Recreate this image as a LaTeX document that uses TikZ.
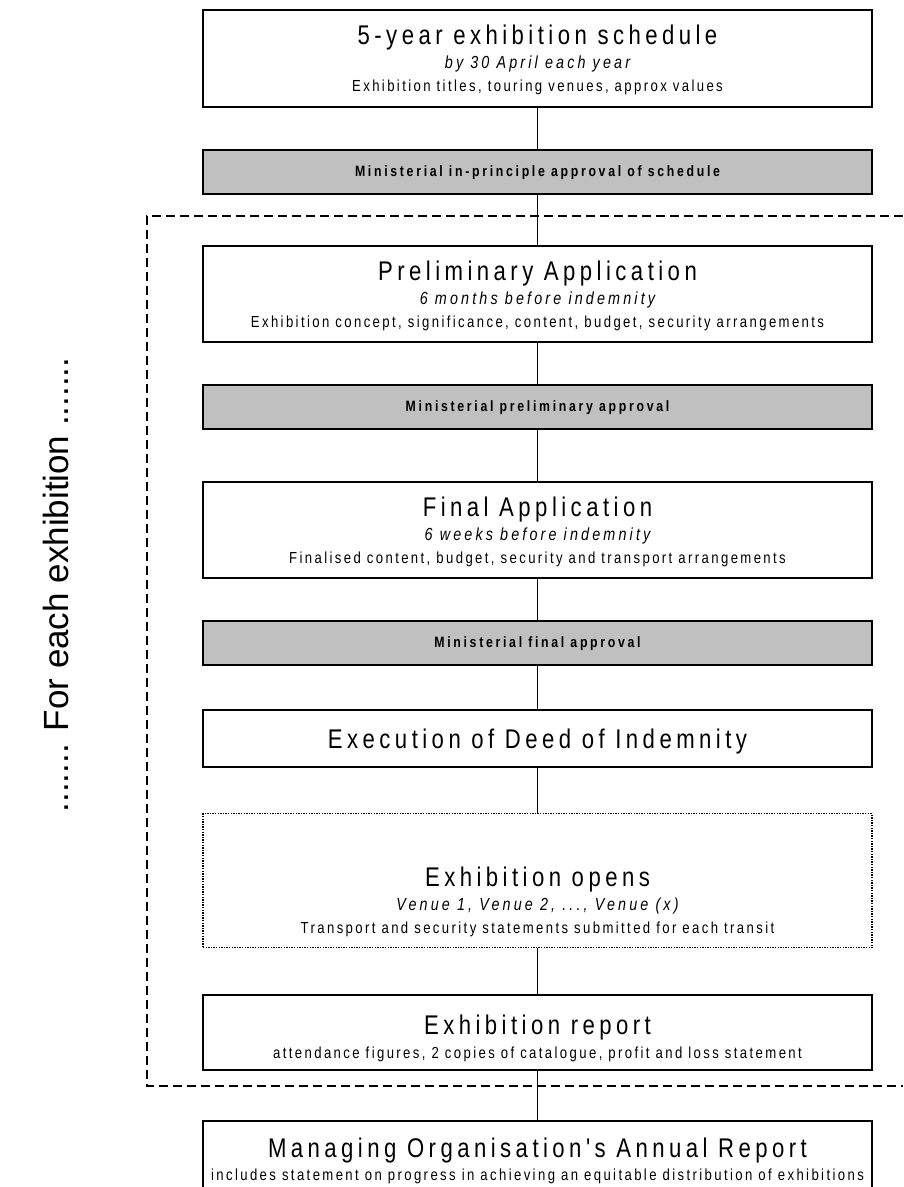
\documentclass[tikz,border=0pt]{standalone}
\usepackage{fontspec}
\setmainfont{Liberation Sans}
\newfontfamily\ttlfont[FakeStretch=0.82,LetterSpace=16.5]{Liberation Sans}
\newfontfamily\subfont[FakeStretch=0.82,LetterSpace=18]{Liberation Sans}
\newfontfamily\dscfont[FakeStretch=0.82,LetterSpace=15]{Liberation Sans}
\newfontfamily\grfont[FakeStretch=0.82,LetterSpace=18]{Liberation Sans}
\definecolor{appgrey}{RGB}{192,192,192}
\tikzset{
  box/.style={draw, line width=1.6pt, fill=white, minimum width=669pt, inner sep=0pt, anchor=north},
  greybox/.style={box, fill=appgrey, minimum height=44pt},
  dotbox/.style={box, line width=1.4pt, dash pattern=on 1.4pt off 1.2pt},
  ttl/.style={anchor=base, inner sep=0pt, font=\ttlfont\fontsize{27}{27}\selectfont},
  sub/.style={anchor=base, inner sep=0pt, font=\subfont\itshape\fontsize{17.5}{17.5}\selectfont},
  dsc/.style={anchor=base, inner sep=0pt, font=\dscfont\fontsize{16}{16}\selectfont},
  gtx/.style={anchor=base, inner sep=0pt, font=\grfont\bfseries\fontsize{15}{15}\selectfont},
  link/.style={line width=1.4pt},
  frame/.style={line width=1.5pt, dash pattern=on 9pt off 5pt},
}
\begin{document}
\begin{tikzpicture}[x=1pt,y=-1pt]
\useasboundingbox (0,0) rectangle (903,1187);
% dashed frame
\draw[frame] (903,216) -| (147,1086) -- (903,1086);
% boxes
\node[box, minimum height=97pt] (b1) at (537.5,9) {};
\node[greybox] (g1) at (537.5,149) {};
\node[box, minimum height=96pt] (b2) at (537.5,245) {};
\node[greybox] (g2) at (537.5,384) {};
\node[box, minimum height=96pt] (b3) at (537.5,481) {};
\node[greybox] (g3) at (537.5,620) {};
\node[box, minimum height=57pt] (b4) at (537.5,709) {};
\node[dotbox, minimum height=134pt] (b5) at (537.5,813) {};
\node[box, minimum height=75pt] (b6) at (537.5,994) {};
\node[box, minimum height=72pt] (b7) at (537.5,1120) {};
% connectors
\draw[link] (b1.south) -- (g1.north);
\draw[link] (g1.south) -- (b2.north);
\draw[link] (b2.south) -- (g2.north);
\draw[link] (g2.south) -- (b3.north);
\draw[link] (b3.south) -- (g3.north);
\draw[link] (g3.south) -- (b4.north);
\draw[link] (b4.south) -- (b5.north);
\draw[link] (b5.south) -- (b6.north);
\draw[link] (b6.south) -- (b7.north);
% texts
\node[ttl] (t1a) at (537.5,44) {5-year exhibition schedule};
\node[sub] (t1b) at (537.5,68) {by 30 April each year};
\node[dsc] (t1c) at (537.5,91) {Exhibition titles, touring venues, approx values};
\node[gtx] (tg1) at (537.5,176) {Ministerial in-principle approval of schedule};
\node[ttl] (t2a) at (537.5,280) {Preliminary Application};
\node[sub] (t2b) at (537.5,304) {6 months before indemnity};
\node[dsc] (t2c) at (537.5,327) {Exhibition concept, significance, content, budget, security arrangements};
\node[gtx] (tg2) at (537.5,411) {Ministerial preliminary approval};
\node[ttl] (t3a) at (537.5,516) {Final Application};
\node[sub] (t3b) at (537.5,540) {6 weeks before indemnity};
\node[dsc] (t3c) at (537.5,563) {Finalised content, budget, security and transport arrangements};
\node[gtx] (tg3) at (537.5,647) {Ministerial final approval};
\node[ttl] (t4a) at (537.5,748) {Execution of Deed of Indemnity};
\node[ttl] (t5a) at (537.5,886) {Exhibition opens};
\node[sub] (t5b) at (537.5,910) {Venue 1, Venue 2, ..., Venue (x)};
\node[dsc] (t5c) at (537.5,933) {Transport and security statements submitted for each transit};
\node[ttl] (t6a) at (537.5,1034) {Exhibition report};
\node[dsc] (t6b) at (537.5,1058) {attendance figures, 2 copies of catalogue, profit and loss statement};
\node[ttl] (t7a) at (537.5,1157) {Managing Organisation's Annual Report};
\node[dsc] (t7b) at (537.5,1180) {includes statement on progress in achieving an equitable distribution of exhibitions};
% side label
\node[rotate=90, inner sep=0pt, font=\fontsize{35}{35}\selectfont] (side) at (56,585) {....... For each exhibition .......};
\end{tikzpicture}
\end{document}
